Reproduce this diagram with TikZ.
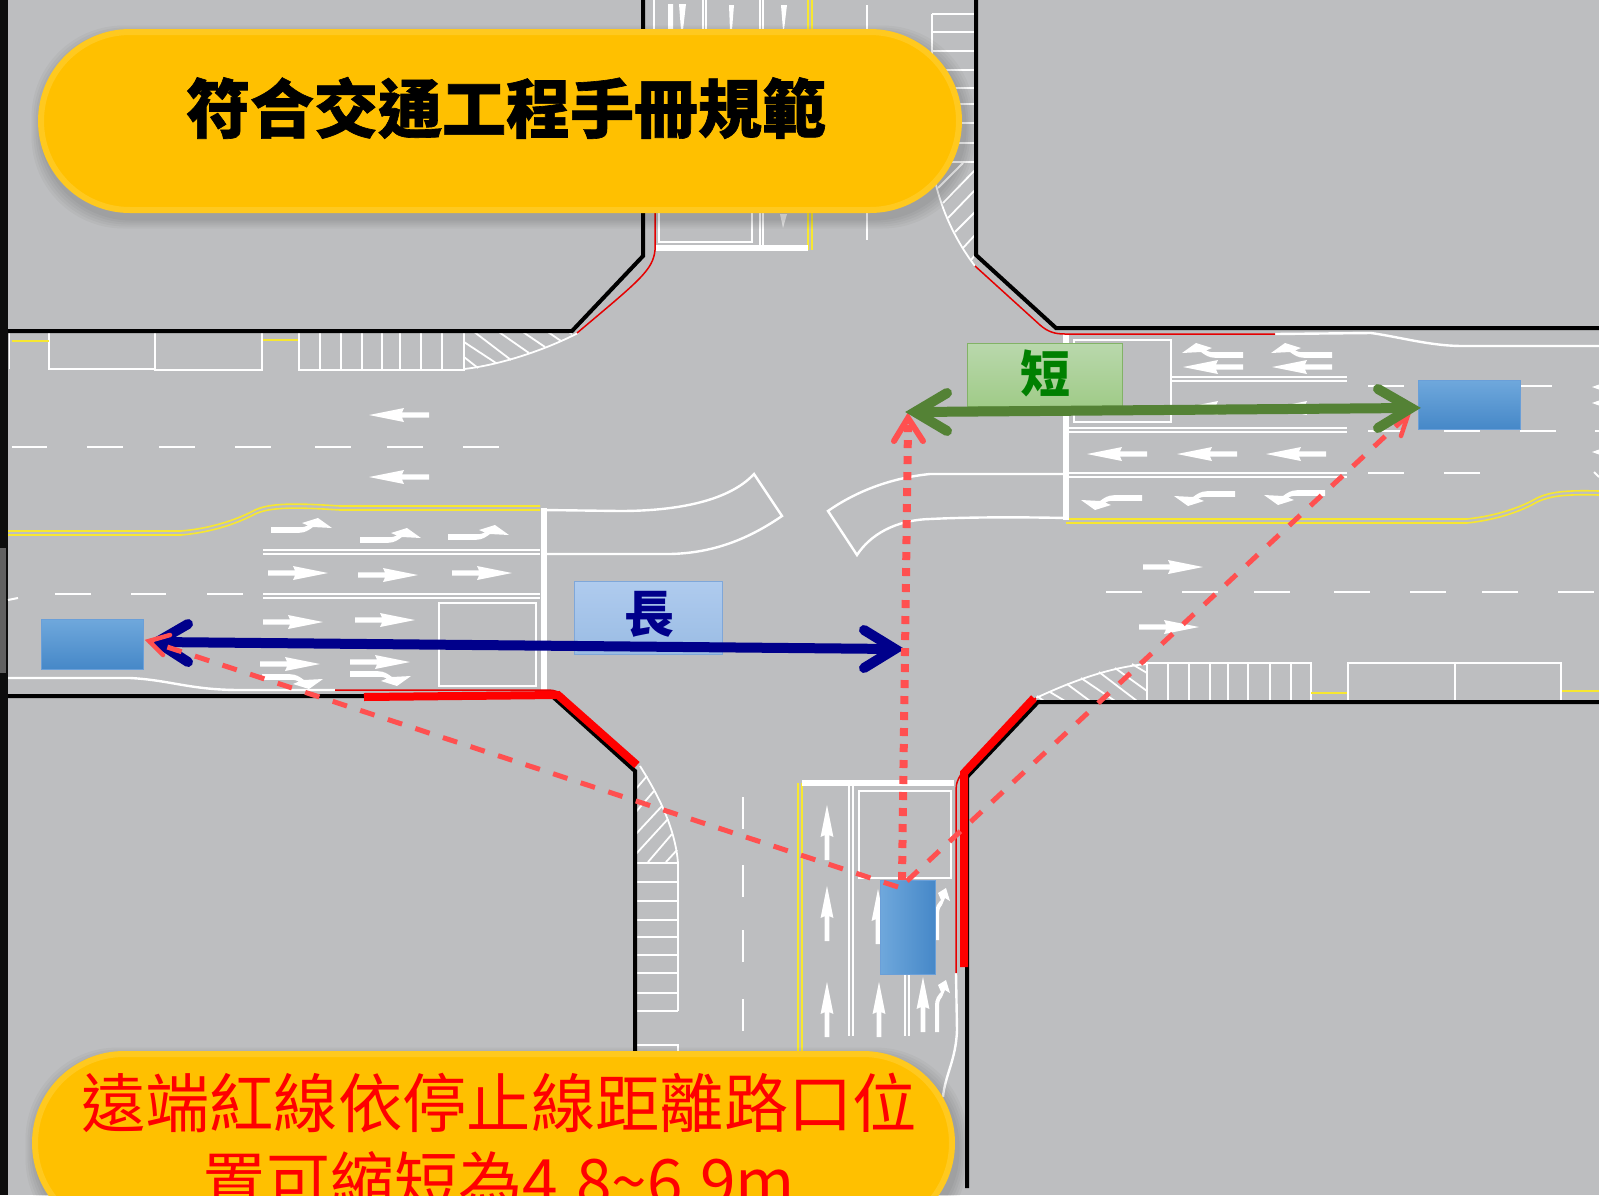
\documentclass[tikz,border=0pt]{standalone}
\usepackage{fontspec}
\newfontfamily\cjk[BoldFeatures={FakeBold=1}]{Noto Sans CJK TC}
\newfontfamily\cjkplain{Noto Sans CJK TC}
\usetikzlibrary{calc}
\definecolor{road}{HTML}{BDBEC0}
\definecolor{lane}{HTML}{F7E731}
\definecolor{redd}{HTML}{FF5050}
\definecolor{pillf}{HTML}{FFC000}
\definecolor{pilld}{HTML}{FFC91F}
\definecolor{grn}{HTML}{548235}
\definecolor{navy2}{HTML}{00008B}
\definecolor{cedge}{HTML}{6A9FD8}
\definecolor{ledgeb}{HTML}{7FA7D9}
\definecolor{ledgeg}{HTML}{82B366}
\definecolor{short}{HTML}{008000}
\newcommand{\sarrow}[4][1]{\fill[white,shift={(#2,#3)},rotate=#4,scale=#1] (0,-2.6)--(27,-2.6)--(25,-7)--(60,0)--(25,7)--(27,2.6)--(0,2.6)--cycle;}
\newcommand{\tarrow}[4]{\fill[white,shift={(#1,#2)},xscale=#3,yscale=#4] (0,-2.8)--(0,2.8)--(28,2.8) .. controls (34,2.8) and (38,0) .. (42,-3)--(61,-2)--(47,-12)--(31,-7)--(37,-4.5) .. controls (34,-3) and (32,-2.8) .. (28,-2.8)--cycle;}
\newcommand{\uarrow}[2]{\fill[white,shift={(#1,#2)}] (-2,0)--(-2,-27) .. controls (-2,-33) and (1,-37) .. (4,-40)--(1,-47)--(9,-52)--(13,-39)--(8,-42)--(5,-35) .. controls (2.5,-32) and (2,-29) .. (2,-27)--(2,0)--cycle;}
\tikzset{
 wl/.style={draw=white,line width=2pt},
 wt/.style={draw=white,line width=1.8pt},
 wbar/.style={draw=white,line width=5.5pt},
 blk/.style={draw=black,line width=4pt,line join=miter},
 thinred/.style={draw=red!90!black,line width=1.5pt},
 thickred/.style={draw=red,line width=8pt,line join=miter},
 yel/.style={draw=lane,line width=1.6pt},
 pillbox/.style={rectangle,rounded corners=89pt,fill=pillf,draw=pilld,line width=6pt,inner sep=0pt,minimum width=918pt,minimum height=178pt},
 carh/.style={rectangle,draw=cedge,line width=1pt,top color=carl,bottom color=card,inner sep=0pt},
 carv/.style={rectangle,draw=cedge,line width=1pt,left color=carl,right color=card,inner sep=0pt},
 rdash/.style={draw=redd,line width=5pt,dash pattern=on 15pt off 14pt},
 rhead/.style={draw=redd,line width=4.5pt,line join=miter},
 bigarrow/.style={line width=10pt,line cap=round,line join=miter},
}
\definecolor{carl}{HTML}{6FA8DC}
\definecolor{card}{HTML}{4688C8}
\definecolor{labbt}{HTML}{AFCBEE}
\definecolor{labbb}{HTML}{9ABCE4}
\definecolor{labgt}{HTML}{B9D8AC}
\definecolor{labgb}{HTML}{A0CB88}
\begin{document}
\begin{tikzpicture}[x=1pt,y=-1pt]
\useasboundingbox (0,0) rectangle (1599,1195);
\clip (0,0) rectangle (1599,1195);
\fill[road] (0,0) rectangle (1599,1195);
\fill[black!95] (0,0) rectangle (8,1195);
\fill[black!62] (0,548) rectangle (6,673);

% ---- top approach
\foreach \x in {654,703,706} \draw[wt] (\x,0)--(\x,32);
\foreach \x in {760,763} \draw[wt] (\x,0)--(\x,246);
\draw[yel] (808,0)--(808,250) (812,0)--(812,250);
\draw[wl] (867,5)--(867,240);
\fill[white] (668,4)--(673,4)--(673,30)--(668,30)--cycle (679,4)--(686,4)--(683,30)--(681,30)--cycle (729,5)--(734,5)--(732,30)--(730,30)--cycle (781,5)--(787,5)--(784,30)--(783,30)--cycle;
\fill[white!85!gray] (780,214)--(787,214)--(783,228)--cycle;
\draw[wt,line width=2pt] (659,200) rectangle (752,242);
\draw[wbar] (656,248)--(808,248);
\foreach \y in {14,32,51,70,88,104,123,143,162} \draw[wt] (932,\y)--(975,\y);
\draw[wt] (932,14)--(932,165);
\draw[wt] (932,165) .. controls (938,205) and (955,240) .. (975,266);
\foreach \a/\b/\c/\d in {963/163/938/188, 975/170/943/203, 975/190/948/218, 975/212/955/232, 975/235/963/248, 975/255/971/260} \draw[wt] (\a,\b)--(\c,\d);

% ---- west approach top side
\draw[wt] (9.5,332)--(9.5,369);
\draw[wt] (49,332)--(49,369)--(155,369) (155,332)--(155,370)--(262,370)--(262,332);
\draw[yel] (12,341)--(49,341) (263,340)--(299,340);
\draw[wt] (299,332)--(299,370)--(464,370)--(464,332);
\foreach \x in {320,341,362,382,400,421,442} \draw[wt] (\x,332)--(\x,370);
\draw[wt] (464,369) .. controls (500,365) and (545,350) .. (578,333);
\foreach \a/\b/\c/\d in {464/357/478/368, 464/342/496/363, 473/331/511/360, 496/330/529/353, 520/330/545/347, 545/330/561/341, 566/330/572/334} \draw[wt] (\a,\b)--(\c,\d);
\sarrow{429}{415}{180}
\sarrow{429}{477}{180}
\foreach \a/\b in {11.5/47,87/123,159/195,235/271,315/351,387/423,463/499} \draw[wl] (\a,447)--(\b,447);

% ---- west approach bottom side
\draw[yel] (8,531) -- (181,531) .. controls (215,528) and (240,518) .. (255,510) .. controls (270,503) and (295,503) .. (340,506) -- (540,506);
\draw[yel] (8,535) -- (181,535) .. controls (215,532) and (240,522) .. (255,514) .. controls (270,507) and (295,507) .. (340,510) -- (540,510);
\foreach \a/\b in {55/91,131/166,207/243} \draw[wl] (\a,594)--(\b,594);
\draw[wl] (8,600)--(18,598);
\foreach \y in {550,554,594,598} \draw[wt] (263,\y)--(540,\y);
\draw[wt,line width=2pt] (439,603) rectangle (536,686);
\tarrow{271}{530}{1}{1}
\tarrow{360}{540}{1}{1}
\tarrow{448}{537}{1}{1}
\sarrow{268}{573}{0}
\sarrow{358}{575}{0}
\sarrow{452}{573}{0}
\sarrow{263}{622}{0}
\sarrow{355}{620}{0}
\sarrow{260}{664}{0}
\sarrow{350}{662}{0}
\tarrow{262}{677}{1}{-1}
\tarrow{350}{674}{1}{-1}
\draw[wt,line width=2.4pt] (8,678) -- (130,678) .. controls (170,680) and (190,690) .. (240,690) -- (335,690);
\draw[wbar] (544,508)--(544,690);
\draw[wt,line width=2.4pt] (544,510) -- (620,511) .. controls (680,511) and (730,500) .. (754,474) -- (782,516) .. controls (750,538) and (715,553) .. (670,554) -- (544,554);

% ---- east approach
\draw[wt,line width=2.4pt] (1275,334) -- (1371,333) .. controls (1400,337) and (1430,346) .. (1463,346) -- (1599,346);
\draw[wt,line width=2pt] (1074,340) rectangle (1171,422);
\tarrow{1243}{355}{-1}{1}
\tarrow{1332}{355}{-1}{1}
\sarrow{1243}{367}{180}
\sarrow{1332}{367}{180}
\sarrow{1243}{408}{180}
\sarrow{1332}{408}{180}
\foreach \y in {377,381} \draw[wt] (1171,\y)--(1347,\y);
\foreach \y in {428,432} \draw[wt] (1066,\y)--(1347,\y);
\foreach \y in {473,477} \draw[wt] (1066,\y)--(1347,\y);
\foreach \a/\b in {1368/1404,1521/1552} \draw[wl] (\a,386)--(\b,386);
\foreach \a/\b in {1368/1404,1444/1480,1520/1556} \draw[wl] (\a,431)--(\b,431);
\foreach \a/\b in {1368/1404,1444/1480} \draw[wl] (\a,473)--(\b,473);
\draw[wl] (1595,431)--(1599,431);
\sarrow{1147}{454}{180}
\sarrow{1237}{454}{180}
\sarrow{1326}{454}{180}
\tarrow{1142}{498}{-1}{-1}
\tarrow{1235}{494}{-1}{-1}
\tarrow{1325}{493}{-1}{-1}
\foreach \y in {387,403,452} \fill[white] (1592,\y)--(1599,\y-2.5)--(1599,\y+2.5)--cycle;
\draw[wl] (1594,472)--(1599,477);
\draw[yel] (1066,519) -- (1467,519) .. controls (1495,516) and (1520,508) .. (1537,498) .. controls (1550,492) and (1565,490) .. (1599,491);
\draw[yel] (1066,523) -- (1467,523) .. controls (1495,520) and (1520,512) .. (1537,502) .. controls (1550,496) and (1565,494) .. (1599,495);
\draw[wt,line width=2.4pt] (1066,474) -- (930,474) .. controls (890,478) and (855,492) .. (828,511) -- (857,555) .. controls (870,535) and (895,520) .. (930,519) .. controls (970,517) and (1020,517) .. (1066,518);
\draw[wbar] (1066,334)--(1066,520);
\sarrow{1143}{567}{0}
\sarrow{1139}{627}{0}
\foreach \a/\b in {1106/1142,1182/1218,1254/1290,1334/1370,1410/1446,1482/1518,1558/1594} \draw[wl] (\a,592)--(\b,592);
\draw[wt] (1147,701)--(1147,663)--(1311,663)--(1311,701);
\foreach \x in {1168,1189,1210,1228,1248,1270,1291} \draw[wt] (\x,663)--(\x,701);
\draw[yel,line width=2pt] (1311,693)--(1348,693) (1561,691)--(1599,691);
\draw[wt] (1348,701)--(1348,663)--(1561,663)--(1561,701) (1455,663)--(1455,701);
\draw[wt] (1147,664) .. controls (1110,667) and (1070,682) .. (1036,698);
\foreach \a/\b/\c/\d in {1147/673/1132/664, 1147/691/1115/668, 1137/701/1099/672, 1115/701/1081/678, 1090/701/1067/684, 1065/701/1050/692, 1044/701/1037/696} \draw[wt] (\a,\b)--(\c,\d);

% ---- south approach
\foreach \y in {863,882,901,920,937,955,973,993,1011} \draw[wt] (635,\y)--(678,\y);
\draw[wt] (678,863)--(678,1011);
\draw[wt] (640,766) .. controls (655,790) and (675,825) .. (678,863);
\draw[wt] (636,1045)--(678,1045)--(678,1060);
\foreach \a/\b/\c/\d in {635/790/647/776, 635/813/654/791, 635/835/662/806, 635/855/668/819, 648/862/672/834, 666/862/677/850} \draw[wt] (\a,\b)--(\c,\d);
\foreach \a/\b in {797/829,865/897,930/962,999/1031} \draw[wl] (743,\a)--(743,\b);
\draw[yel] (798,783)--(798,1060) (802,783)--(802,1060);
\draw[wbar] (802,783)--(954,783);
\foreach \x in {849,853} \draw[wl] (\x,785)--(\x,1036);
\foreach \x in {905,909} \draw[wl] (\x,974)--(\x,1036);
\draw[wt,line width=2pt] (859,791) rectangle (951,878);
\sarrow[.92]{827}{860}{90}
\sarrow[.92]{827}{941}{90}
\sarrow[.92]{827}{1037}{90}
\sarrow[.92]{879}{1037}{90}
\sarrow[.92]{878}{944}{90}
\sarrow[.92]{923}{1032}{90}
\uarrow{937}{1032}
\uarrow{937}{940}
\draw[wt,line width=2.4pt] (956,973) -- (957,1030) .. controls (956,1060) and (945,1075) .. (943,1097);

% ---- kerb lines
\draw[blk] (643,0)--(643,256)--(572,331)--(8,331);
\draw[blk] (976,0)--(976,255)--(1056,328)--(1599,328);
\draw[blk] (8,696)--(552,696)--(635,771)--(635,1195);
\draw[blk] (967,1188)--(967,777)--(1038,702)--(1599,702);

% ---- thin and thick red lines
\draw[thinred] (655,200)--(655,250) .. controls (653,270) and (640,280) .. (577,333);
\draw[thinred] (975,266)--(1040,325) .. controls (1048,332) and (1055,334) .. (1065,334)--(1275,334);
\draw[thinred] (335,690)--(548,690) .. controls (555,690) and (560,692) .. (565,697);
\draw[thinred] (956,973)--(956,790) .. controls (956,775) and (965,765) .. (1036,698);
\draw[thickred] (364,697)--(558,695)--(637,765);
\draw[thickred] (1034,698)--(964,773)--(964,967);

% ---- vehicles and labels
\node[carh,minimum width=102pt,minimum height=50pt] (carW) at (92.5,644) {};
\node[carh,minimum width=102pt,minimum height=49pt] (carE) at (1469.5,404.5) {};
\node[carv,minimum width=55pt,minimum height=94pt] (carS) at (907.5,927) {};
\node[rectangle,draw=ledgeb,line width=.8pt,top color=labbt,bottom color=labbb,minimum width=148pt,minimum height=73pt,inner sep=0pt] (lblong) at (648,617.5) {};
\node[font={\cjkplain\bfseries\fontsize{50}{50}\selectfont},text=navy2,inner sep=0pt] (long) at (649,614) {長};
\node[rectangle,draw=ledgeg,line width=.8pt,top color=labgt,bottom color=labgb,minimum width=155pt,minimum height=63pt,inner sep=0pt] (lbshort) at (1045,375) {};
\node[font={\cjkplain\bfseries\fontsize{50}{50}\selectfont},text=short,inner sep=0pt] (shortt) at (1045,373) {短};

% ---- named ends of the measures
\coordinate (bW) at (157,642);
\coordinate (bE) at (895,649);
\coordinate (gW) at (915,412);
\coordinate (gE) at (1411,408);
\coordinate (rS) at (898,887);
\coordinate (rSb) at (907,881);
\coordinate (rW) at (149,641);
\coordinate (rE) at (1408,415);
\coordinate (dS) at (902,880);
\coordinate (dN) at (908,425);

\draw[navy2,line width=10pt] (bW)--(bE);
\draw[navy2,bigarrow] (188,624)--(bW)--(188,662);
\draw[navy2,bigarrow] (864,630)--(bE)--(864,668);
\draw[rdash] (rS)--(rW);
\draw[rdash] (rSb)--(rE);
\draw[rhead,line cap=round] (170,635)--(rW)--(163,655);
\draw[rhead,line cap=round] (1387,422)--(rE)--(1401,436);
\draw[redd,line width=8pt,dash pattern=on 8pt off 8pt] (dS)--(dN);
\draw[redd,line width=6pt,line cap=round,line join=miter] (894,441)--(908,418)--(923,441);
\draw[grn,line width=10pt] (gW)--(gE);
\draw[grn,bigarrow] (947,393)--(gW)--(947,431);
\draw[grn,bigarrow] (1378,389)--(gE)--(1378,428);

% ---- pills
\foreach \w in {3,7,11,15,19} {
 \fill[black,opacity=.03,rounded corners=92pt] (41-\w/2,35-\w/2) rectangle (965+\w/2,219+\w/2);
 \fill[black,opacity=.03,rounded corners=92pt] (35-\w/2,1057-\w/2) rectangle (958+\w/2,1241+\w/2);
}
\node[pillbox] (pillT) at (500,121) {};
\node[pillbox,minimum width=917pt] (pillB) at (493.5,1143) {};
\node[font={\cjk\bfseries\fontsize{64}{64}\selectfont},text=black,inner sep=0pt] (title) at (506,108) {符合交通工程手冊規範};
\node[font={\cjkplain\fontsize{64.3}{64}\selectfont},text=red,inner sep=0pt] (note1) at (499,1103) {遠端紅線依停止線距離路口位};
\node[font={\cjkplain\fontsize{64}{64}\selectfont},text=red,inner sep=0pt] (note2) at (499,1181) {置可縮短為4.8\textasciitilde 6.9m};
\end{tikzpicture}
\end{document}
